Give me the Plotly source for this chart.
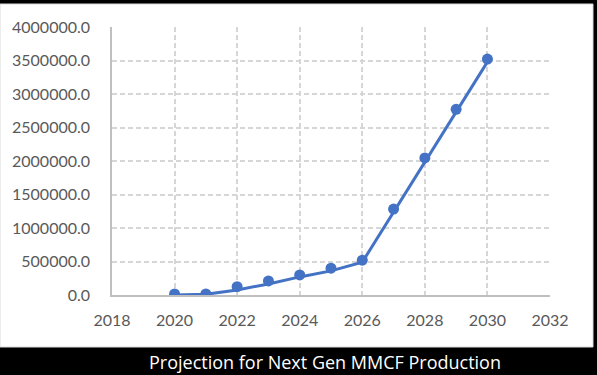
import plotly.graph_objects as go

years = [2020, 2021, 2022, 2023, 2024, 2025, 2026, 2027, 2028, 2029, 2030]
line_values = [0, 10000, 75000, 165000, 270000, 360000, 490000, 1240000, 2000000, 2730000, 3480000]
marker_values = [15000, 15000, 125000, 210000, 300000, 400000, 520000, 1283000, 2045000, 2771000, 3522000]
x_ticks = [2018, 2020, 2022, 2024, 2026, 2028, 2030, 2032]
caption = "Projection for Next Gen MMCF Production"

W, H = 597, 375
L, R, T, B = 112, 47, 27, 80
pw, ph = W - L - R, H - T - B

def px(x):
    return (x - L) / pw

def py(y):
    return (H - B - y) / ph

blue = "#4472C4"
fig = go.Figure()
fig.add_trace(go.Scatter(x=years, y=line_values, mode="lines",
                         line=dict(color=blue, width=3), hoverinfo="skip"))
fig.add_trace(go.Scatter(x=years, y=marker_values, mode="markers",
                         marker=dict(color=blue, size=11)))

fig.update_layout(
    width=W, height=H,
    margin=dict(l=L, r=R, t=T, b=B, autoexpand=False),
    paper_bgcolor="black",
    plot_bgcolor="rgba(0,0,0,0)",
    showlegend=False,
    font=dict(family="Lato", size=16, color="#595959"),
    shapes=[dict(type="rect", xref="paper", yref="paper", layer="below",
                 x0=px(0), x1=px(593), y0=py(347), y1=py(4),
                 fillcolor="white", line=dict(color="#D9D9D9", width=1))],
    annotations=[dict(text=caption, xref="paper", yref="paper",
                      x=px(325), y=py(362), showarrow=False,
                      xanchor="center", yanchor="middle",
                      font=dict(family="Open Sans", size=18, color="white"))],
)
fig.update_xaxes(range=[2018, 2032], tickvals=x_ticks, showgrid=True,
                 gridcolor="#D6D6D6", griddash="5px,3px", gridwidth=1.5,
                 showline=True, linecolor="#BFBFBF", linewidth=1.5,
                 zeroline=False, ticks="", ticklabelstandoff=10, automargin=False)
fig.update_yaxes(range=[0, 4000000], dtick=500000, tickformat=".1f",
                 showgrid=True, gridcolor="#D6D6D6", griddash="5px,3px", gridwidth=1.5,
                 showline=True, linecolor="#BFBFBF", linewidth=1.5,
                 zeroline=False, ticks="", ticklabelstandoff=17, automargin=False)

fig.write_html("out.html", config={"displayModeBar": False},
               post_script="document.body.style.margin='0';document.body.style.overflow='hidden';")
